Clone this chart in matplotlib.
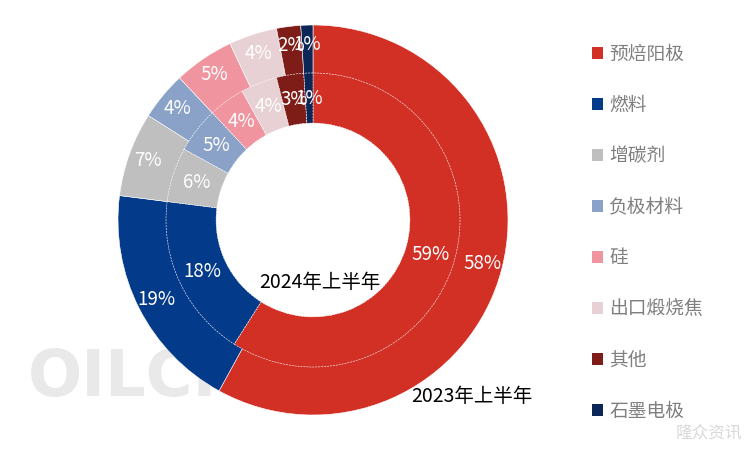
import matplotlib
matplotlib.use('Agg')
import matplotlib.pyplot as plt
from matplotlib.patches import Patch

plt.rcParams['font.family'] = ['Noto Sans CJK SC', 'DejaVu Sans']

categories = ['预焙阳极', '燃料', '增碳剂', '负极材料', '硅', '出口煅烧焦', '其他', '石墨电极']
share_2023 = [58, 19, 7, 4, 5, 4, 2, 1]
share_2024 = [59, 18, 6, 5, 4, 4, 3, 1]
colors = ['#D22F25', '#033A89', '#BFBFBF', '#8AA2C8', '#F0959F', '#E8D1D4', '#7E1C17', '#0C2757']

fig = plt.figure(figsize=(7.5, 4.5), dpi=100)
ax = fig.add_axes([0, 0, 1, 1])

fmt = lambda p: f'{p:.0f}%'
w_out, t_out, a_out = ax.pie(share_2023, radius=1.0, colors=colors, startangle=90, counterclock=False,
                             autopct=fmt, pctdistance=0.9,
                             wedgeprops=dict(width=0.256, edgecolor='white', linewidth=0.4))
w_in, t_in, a_in = ax.pie(share_2024, radius=0.754, colors=colors, startangle=90, counterclock=False,
                          autopct=fmt, pctdistance=0.83,
                          wedgeprops=dict(width=0.257, edgecolor='white', linewidth=0.4, linestyle='--'))
for t in a_out + a_in:
    t.set_color('white')
    t.set_fontsize(13.5)

# center of donut at pixel (313, 220), outer radius 195 px
ax.set_xlim(-313 / 195, (750 - 313) / 195)
ax.set_ylim(-230 / 195, 220 / 195)
ax.set_aspect('equal')
ax.axis('off')

# faint watermarks
ax.text((28 - 313) / 195, (220 - 378) / 195, 'OILCHEM', fontsize=46, fontweight='bold',
        color='#E9E9E9', ha='left', va='center', family=['Liberation Sans Narrow', 'DejaVu Sans'], zorder=0)
ax.text((742 - 313) / 195, (220 - 433) / 195, '隆众资讯', fontsize=12,
        color='#D8D8D8', ha='right', va='center', zorder=0)

ax.text((320 - 313) / 195, (220 - 282) / 195, '2024年上半年', fontsize=14, ha='center', va='center', color='black')
ax.text((472 - 313) / 195, (220 - 396) / 195, '2023年上半年', fontsize=14, ha='center', va='center', color='black')

handles = [Patch(facecolor=c, edgecolor='none') for c in colors]
fig.legend(handles, categories, loc='upper left', bbox_to_anchor=(584 / 750, 1 - 36 / 450),
           frameon=False, fontsize=13.5, labelcolor='#7F7F7F', labelspacing=1.6,
           handlelength=0.6, handleheight=0.6, handletextpad=0.35, borderaxespad=0)

fig.savefig('out.png', dpi=100)
